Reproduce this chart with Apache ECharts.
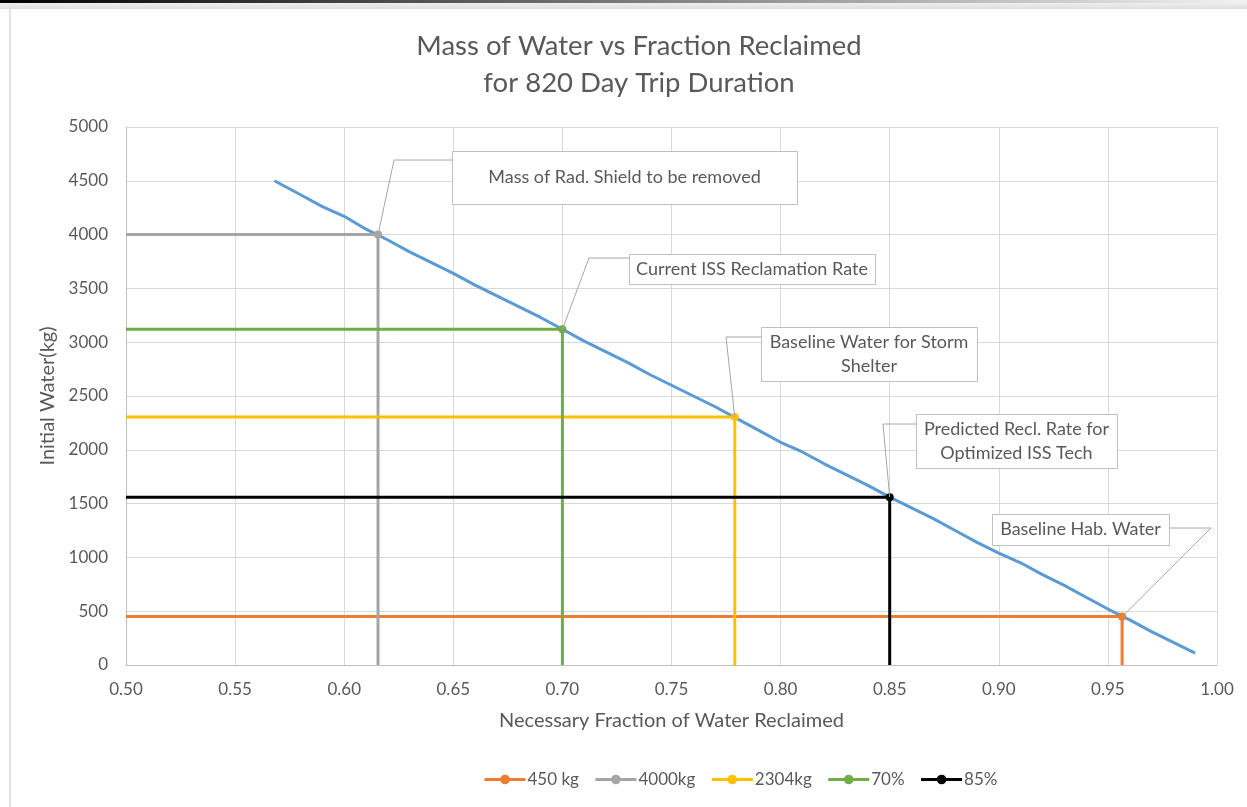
<!DOCTYPE html>
<html>
<head>
<meta charset="utf-8">
<script src="https://cdn.jsdelivr.net/npm/echarts@6/dist/echarts.min.js"></script>
<style>
  html, body { margin: 0; padding: 0; background: #fff; }
  #chart { width: 1247px; height: 807px; }
</style>
</head>
<body>
<div id="chart"></div>
<script>
// blue curve: necessary fraction reclaimed vs initial water (kg)
const fraction = [0.568, 0.58, 0.59, 0.60, 0.61, 0.62, 0.63, 0.64, 0.65, 0.66, 0.67, 0.68, 0.69, 0.70,
    0.71, 0.72, 0.73, 0.74, 0.75, 0.76, 0.77, 0.78, 0.79, 0.80, 0.81, 0.82, 0.83, 0.84, 0.85,
    0.86, 0.87, 0.88, 0.89, 0.90, 0.91, 0.92, 0.93, 0.94, 0.95, 0.96, 0.97, 0.98, 0.99]
const initialWater = [4500, 4370, 4260, 4170, 4050, 3950, 3840, 3740, 3640, 3530, 3430, 3330, 3230, 3120,
    3010, 2910, 2810, 2700, 2600, 2500, 2400, 2290, 2180, 2070, 1980, 1870, 1770, 1670, 1560,
    1460, 1360, 1250, 1140, 1040, 950, 840, 740, 630, 520, 420, 310, 210, 110]

// reference points
const refNames = ['450 kg', '4000kg', '2304kg', '70%', '85%']
const refX = [0.9565, 0.6155, 0.779, 0.70, 0.85]
const refY = [450, 4000, 2304, 3120, 1560]
const refColors = ['#ED7D31', '#A5A5A5', '#FFC000', '#70AD47', '#000000']

// callouts: which ref point, box [x, y, w, h], elbow of leader line
const notes = [
    { ref: 1, text: 'Mass of Rad. Shield to be removed', box: [452, 151, 345, 53], elbow: [394, 160] },
    { ref: 3, text: 'Current ISS Reclamation Rate', box: [629, 254, 246, 30], elbow: [589, 258] },
    { ref: 2, text: 'Baseline Water for Storm\nShelter', box: [761, 327, 216, 54], elbow: [726, 337] },
    { ref: 4, text: 'Predicted Recl. Rate for\nOptimized ISS Tech', box: [916, 414, 201, 54], elbow: [883, 424] },
    { ref: 0, text: 'Baseline Hab. Water', box: [992, 514, 177, 31], elbow: [1211, 528] }
]

const FONT = 'Lato'
const GREY_TEXT = '#595959'

let seriesObjs = [
    {
        name: 'curve',
        type: 'line',
        data: fraction.map((f, i) => [f, initialWater[i]]),
        symbol: 'none',
        lineStyle: { color: '#5B9BD5', width: 3 },
        z: 2
    }
]
refNames.forEach((name, i) => {
    seriesObjs.push({
        name: name,
        type: 'line',
        symbol: 'circle',
        symbolSize: 8,
        itemStyle: { color: refColors[i] },
        lineStyle: { color: refColors[i], width: 3 },
        z: 3,
        data: [
            { value: [0.5, refY[i]], symbol: 'none' },
            { value: [refX[i], refY[i]] },
            { value: [refX[i], 0], symbol: 'none' }
        ]
    })
})

let option = {
    animation: false,
    textStyle: { fontFamily: FONT },
    title: {
        text: 'Mass of Water vs Fraction Reclaimed\nfor 820 Day Trip Duration',
        left: 634,
        textAlign: 'center',
        top: 23,
        textStyle: { fontFamily: FONT, fontSize: 27.5, fontWeight: 'normal', color: GREY_TEXT, lineHeight: 37 }
    },
    grid: { left: 126, right: 30, top: 127, bottom: 142 },
    legend: {
        left: 478,
        top: 766,
        data: refNames,
        itemWidth: 41,
        itemHeight: 12,
        itemGap: 15,
        lineStyle: { width: 3 },
        textStyle: { fontFamily: FONT, fontSize: 17, color: GREY_TEXT, padding: [0, 0, 0, -3] }
    },
    xAxis: {
        type: 'value',
        min: 0.5,
        max: 1.0,
        interval: 0.05,
        name: 'Necessary Fraction of Water Reclaimed',
        nameLocation: 'middle',
        nameGap: 46,
        nameTextStyle: { fontFamily: FONT, fontSize: 20, color: GREY_TEXT },
        axisLine: { lineStyle: { color: '#BFBFBF', width: 1 } },
        axisTick: { show: false },
        axisLabel: {
            fontFamily: FONT, fontSize: 17, color: GREY_TEXT, margin: 16,
            formatter: v => v.toFixed(2)
        },
        splitLine: { show: true, lineStyle: { color: '#D9D9D9', width: 1 } }
    },
    yAxis: {
        type: 'value',
        min: 0,
        max: 5000,
        interval: 500,
        name: 'Initial Water(kg)',
        nameLocation: 'middle',
        nameGap: 66,
        nameTextStyle: { fontFamily: FONT, fontSize: 20, color: GREY_TEXT },
        axisLine: { show: true, lineStyle: { color: '#BFBFBF', width: 1 } },
        axisTick: { show: false },
        axisLabel: { fontFamily: FONT, fontSize: 17, color: GREY_TEXT, margin: 18, formatter: v => String(v) },
        splitLine: { show: true, lineStyle: { color: '#D9D9D9', width: 1 } }
    },
    series: seriesObjs
}

const chart = echarts.init(document.getElementById('chart'))
chart.setOption(option)

// frame of the screenshot + callouts
let graphics = [
    {
        type: 'rect', shape: { x: 0, y: 0, width: 1247, height: 3 }, silent: true,
        style: { fill: new echarts.graphic.LinearGradient(0, 0, 1, 0, [
            { offset: 0, color: '#000' }, { offset: 1, color: '#f2f2f2' }]) }
    },
    {
        type: 'rect', shape: { x: 0, y: 3, width: 1247, height: 6 }, silent: true,
        style: { fill: new echarts.graphic.LinearGradient(0, 0, 0, 1, [
            { offset: 0, color: '#eeeeee' }, { offset: 1, color: '#dedede' }]) }
    },
    {
        type: 'rect', shape: { x: 9, y: 9, width: 2, height: 798 }, silent: true,
        style: { fill: '#e2e2e2' }
    }
]
notes.forEach(n => {
    const p = chart.convertToPixel({ gridIndex: 0 }, [refX[n.ref], refY[n.ref]])
    const [bx, by, bw, bh] = n.box
    const edgeX = n.elbow[0] < bx ? bx : bx + bw
    graphics.push({
        type: 'polyline', silent: true, z: 10,
        shape: { points: [p, n.elbow, [edgeX, n.elbow[1]]] },
        style: { stroke: '#A6A6A6', lineWidth: 1, fill: null }
    })
    graphics.push({
        type: 'rect', silent: true, z: 10,
        shape: { x: bx + 0.5, y: by + 0.5, width: bw, height: bh },
        style: { fill: '#fff', stroke: '#BFBFBF', lineWidth: 1 }
    })
    graphics.push({
        type: 'text', silent: true, z: 11,
        x: bx + bw / 2, y: by + bh / 2,
        style: {
            text: n.text, align: 'center', verticalAlign: 'middle',
            fontFamily: FONT, fontSize: 18, lineHeight: 24, fill: GREY_TEXT
        }
    })
})
chart.setOption({ graphic: graphics })
</script>
</body>
</html>
